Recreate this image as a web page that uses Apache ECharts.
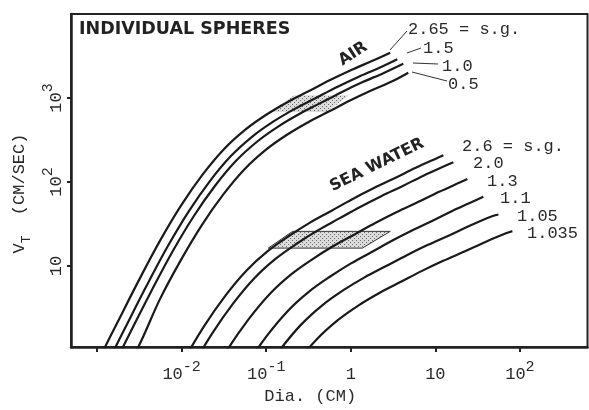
<!DOCTYPE html>
<html>
<head>
<meta charset="utf-8">
<script src="https://cdn.jsdelivr.net/npm/echarts@6/dist/echarts.min.js"></script>
<style>
html,body{margin:0;padding:0;background:#fff;}
#chart{width:589px;height:410px;}
</style>
</head>
<body>
<div id="chart"></div>
<script>
// ---------- tick values / labels ----------
const xTickVals = [0.001, 0.01, 0.1, 1, 10, 100];
const xLabelVals = [0.01, 0.1, 1, 10, 100];
const xLabelBase = ['10', '10', '1', '10', '10'];
const xLabelExp = ['-2', '-1', '', '', '2'];
const yTickVals = [10, 100, 1000];
const yLabelBase = ['10', '10', '10'];
const yLabelExp = ['', '2', '3'];

// ---------- AIR curves (diameter cm, velocity cm/s) ----------
const airNames = ['2.65', '1.5', '1.0', '0.5'];
const air265D = [0.001, 0.001778, 0.003162, 0.005623, 0.01, 0.01778, 0.03162, 0.05623, 0.1, 0.1778, 0.3162, 0.5623, 1, 1.778, 2.931];
const air265V = [0.700, 2.213, 6.918, 20.42, 53.70, 123.0, 245.5, 416.9, 631.0, 891.3, 1202, 1622, 2138, 2754, 3467];
const air15D = [0.001209, 0.00215, 0.003823, 0.006798, 0.01209, 0.0215, 0.03823, 0.06798, 0.1209, 0.215, 0.3823, 0.6798, 1.209, 2.15, 3.55];
const air15V = [0.579, 1.830, 5.722, 16.89, 44.42, 101.7, 203.1, 344.8, 521.9, 737.2, 994.2, 1342, 1768, 2278, 2900];
const air10D = [0.001384, 0.002461, 0.004376, 0.007782, 0.01384, 0.02461, 0.04376, 0.07782, 0.1384, 0.2461, 0.4376, 0.7782, 1.384, 2.461, 4.18];
const air10V = [0.506, 1.599, 4.999, 14.75, 38.80, 88.87, 177.4, 301.2, 455.9, 644.0, 868.5, 1172, 1545, 1990, 2560];
const air05D = [0.001742, 0.003097, 0.005508, 0.009795, 0.01742, 0.03097, 0.05508, 0.09795, 0.1742, 0.3097, 0.5508, 0.9795, 1.742, 3.097, 4.79];
const air05V = [0.402, 1.10, 3.971, 11.72, 30.83, 70.61, 140.9, 239.3, 362.2, 511.6, 690.0, 931.1, 1227, 1581, 2000];

// ---------- SEA WATER curves ----------
const swNames = ['2.6', '2.0', '1.3', '1.1', '1.05', '1.035'];
const sw26D = [0.01042, 0.01854, 0.03296, 0.05861, 0.1042, 0.1854, 0.3296, 0.5861, 1.042, 1.854, 3.296, 5.861, 10.42, 12.45];
const sw26V = [0.7345, 1.932, 4.426, 8.831, 15.00, 22.70, 32.81, 45.19, 62.37, 83.95, 110.7, 147.2, 191.9, 208.0];
const sw20D = [0.01288, 0.02291, 0.04074, 0.07244, 0.1288, 0.2291, 0.4074, 0.7244, 1.288, 2.291, 4.074, 7.244, 12.88, 16.33];
const sw20V = [0.5943, 1.563, 3.581, 7.145, 12.13, 18.37, 26.49, 36.56, 50.35, 67.76, 89.13, 118.9, 154.5, 171.8];
const sw13D = [0.01972, 0.03508, 0.06237, 0.1109, 0.1972, 0.3508, 0.6237, 1.109, 1.972, 3.508, 6.237, 11.09, 19.72, 23.93];
const sw13V = [0.3882, 1.021, 2.339, 4.667, 7.925, 11.99, 17.26, 23.71, 32.66, 43.85, 57.54, 76.38, 99.1, 108.1];
const sw11D = [0.05662, 0.1007, 0.1791, 0.3184, 0.5662, 1.007, 1.791, 3.184, 5.662, 10.07, 17.91, 31.84, 36.98];
const sw11V = [0.6324, 1.449, 2.891, 4.909, 7.430, 10.72, 14.76, 20.32, 27.35, 35.97, 47.86, 62.23, 66.68];
const sw105D = [0.08185, 0.1455, 0.2588, 0.4603, 0.8185, 1.455, 2.588, 4.603, 8.185, 14.55, 25.88, 46.03, 55.72];
const sw105V = [0.4375, 1.002, 2.0, 3.396, 5.140, 7.311, 9.908, 13.43, 17.82, 23.07, 30.27, 38.73, 41.0];
const sw1035D = [0.1239, 0.2203, 0.3917, 0.6966, 1.239, 2.203, 3.917, 6.966, 12.39, 22.03, 39.17, 69.66, 81.47];
const sw1035V = [0.2891, 0.6622, 1.321, 2.244, 3.396, 4.797, 6.471, 8.730, 11.51, 14.83, 19.32, 24.6, 26.0];

// ---------- stippled ranges ----------
const airHatchD = [0.11, 0.215, 0.95, 0.52];
const airHatchV = [680, 1080, 1080, 680];
const swHatchD = [0.106, 0.205, 2.93, 1.37];
const swHatchV = [16.3, 25.8, 25.8, 16.3];

// ---------- text ----------
const titleText = 'INDIVIDUAL SPHERES';
const xName = 'Dia. (CM)';

const MONO = '"Liberation Mono", "DejaVu Sans Mono", monospace';
const BOLD = '"DejaVu Sans", "Noto Sans", sans-serif';
const INK = '#2a2a2a';

const chart = echarts.init(document.getElementById('chart'), null, {renderer: 'canvas'});

// stipple pattern
const pc = document.createElement('canvas');
pc.width = 4; pc.height = 4;
const pctx = pc.getContext('2d');
pctx.fillStyle = '#dcdcdc'; pctx.fillRect(0, 0, 4, 4);
pctx.fillStyle = '#6a6a6a';
pctx.fillRect(0, 0, 1, 1); pctx.fillRect(2, 2, 1, 1);
const stipple = {image: pc, repeat: 'repeat'};

function curve(name, D, V) {
  return {
    type: 'line', name: name,
    data: D.map((d, i) => [d, V[i]]),
    showSymbol: false, symbol: 'none',
    smooth: 0.35, clip: true, silent: true,
    lineStyle: {color: '#1a1a1a', width: 2.2},
    z: 3
  };
}
function hatch(D, V, stroke) {
  return {
    type: 'custom', coordinateSystem: 'cartesian2d', silent: true, clip: true, z: 2,
    data: [[D[0], V[0]]],
    renderItem: function (params, api) {
      return {
        type: 'polygon',
        shape: {points: D.map((d, i) => api.coord([d, V[i]]))},
        style: {fill: stipple, stroke: stroke ? '#333' : null, lineWidth: stroke ? 1 : 0}
      };
    }
  };
}
function idxOf(arr, val) {
  let best = 0, bd = Infinity;
  arr.forEach((a, i) => {
    const dd = Math.abs(Math.log10(a) - Math.log10(val));
    if (dd < bd) { bd = dd; best = i; }
  });
  return best;
}
const richLab = {
  b: {fontFamily: MONO, fontSize: 17, lineHeight: 24, verticalAlign: 'bottom', color: INK},
  e: {fontFamily: MONO, fontSize: 15, lineHeight: 12, verticalAlign: 'top', color: INK}
};

function txt(text, x, y, opts) {
  opts = opts || {};
  return {
    type: 'text', x: x, y: y, rotation: opts.rot || 0, silent: true, z: 10,
    style: {
      text: text, fill: opts.fill || INK,
      font: opts.font || ('17px ' + MONO),
      align: opts.align || 'left', verticalAlign: 'middle',
      textAlign: opts.align || 'left', textVerticalAlign: 'middle'
    }
  };
}
function seg(x1, y1, x2, y2) {
  return {type: 'line', silent: true, z: 10, shape: {x1, y1, x2, y2}, style: {stroke: '#333', lineWidth: 1}};
}

const option = {
  animation: false,
  backgroundColor: '#ffffff',
  grid: {left: 71, right: 1.5, top: 14, bottom: 60, show: true, borderColor: '#222', borderWidth: 2, backgroundColor: 'transparent'},
  xAxis: {
    type: 'log', logBase: 10, min: 0.000492, max: 630,
    axisLine: {show: true, onZero: false, lineStyle: {color: '#222', width: 2.5}},
    axisTick: {show: true, inside: false, length: 5, customValues: xTickVals, lineStyle: {color: '#222', width: 2}},
    minorTick: {show: false},
    splitLine: {show: false},
    axisLabel: {
      customValues: xLabelVals, margin: 12,
      formatter: function (val) {
        const i = idxOf(xLabelVals, val);
        return xLabelExp[i] ? '{b|' + xLabelBase[i] + '}{e|' + xLabelExp[i] + '}' : '{b|' + xLabelBase[i] + '}';
      },
      rich: richLab
    },
    name: xName, nameLocation: 'middle', nameGap: 25,
    nameTextStyle: {fontFamily: MONO, fontSize: 17, color: INK, padding: [0, 38, 0, 0]}
  },
  yAxis: {
    type: 'log', logBase: 10, min: 1.08, max: 10000,
    axisLine: {show: true, onZero: false, lineStyle: {color: '#222', width: 2.5}},
    axisTick: {show: true, inside: false, length: 4, customValues: yTickVals, lineStyle: {color: '#222', width: 2}},
    minorTick: {show: false},
    splitLine: {show: false},
    axisLabel: {
      customValues: yTickVals, margin: 6, rotate: 90,
      formatter: function (val) {
        const i = idxOf(yTickVals, val);
        return yLabelExp[i] ? '{b|' + yLabelBase[i] + '}{e|' + yLabelExp[i] + '}' : '{b|' + yLabelBase[i] + '}';
      },
      rich: richLab
    },
    name: '{v|V}{t|T}{r|  (CM/SEC)}', nameLocation: 'middle', nameGap: 35, nameRotate: 90,
    nameTextStyle: {
      padding: [0, 26, 0, 0],
      rich: {
        v: {fontFamily: MONO, fontSize: 17, lineHeight: 22, verticalAlign: 'top', color: INK},
        t: {fontFamily: MONO, fontSize: 13, lineHeight: 14, verticalAlign: 'bottom', color: INK},
        r: {fontFamily: MONO, fontSize: 17, lineHeight: 22, verticalAlign: 'top', color: INK}
      }
    }
  },
  graphic: {
    elements: [
      txt(titleText, 79, 29, {font: 'bold 17.5px ' + BOLD, fill: '#222'}),
      txt('AIR', 353, 54, {font: 'bold 16px ' + BOLD, fill: '#222', align: 'center', rot: 33 * Math.PI / 180}),
      txt('SEA WATER', 377, 165, {font: 'bold 16px ' + BOLD, fill: '#222', align: 'center', rot: 26 * Math.PI / 180}),
      seg(390, 50, 407, 31), txt(airNames[0] + ' = s.g.', 408, 29),
      seg(407, 53, 421, 48), txt(airNames[1], 423, 48),
      seg(413, 63, 438, 64), txt(airNames[2], 442, 66),
      seg(412, 72, 447, 81), txt(airNames[3], 448, 84),
      txt(swNames[0] + ' = s.g.', 462, 146),
      txt(swNames[1], 473, 163),
      txt(swNames[2], 487, 181),
      txt(swNames[3], 500, 198),
      txt(swNames[4], 517, 216),
      txt(swNames[5], 527, 233)
    ]
  },
  series: [
    hatch(airHatchD, airHatchV, false),
    hatch(swHatchD, swHatchV, true),
    curve('air ' + airNames[0], air265D, air265V),
    curve('air ' + airNames[1], air15D, air15V),
    curve('air ' + airNames[2], air10D, air10V),
    curve('air ' + airNames[3], air05D, air05V),
    curve('sea ' + swNames[0], sw26D, sw26V),
    curve('sea ' + swNames[1], sw20D, sw20V),
    curve('sea ' + swNames[2], sw13D, sw13V),
    curve('sea ' + swNames[3], sw11D, sw11V),
    curve('sea ' + swNames[4], sw105D, sw105V),
    curve('sea ' + swNames[5], sw1035D, sw1035V)
  ]
};
chart.setOption(option);
</script>
</body>
</html>
